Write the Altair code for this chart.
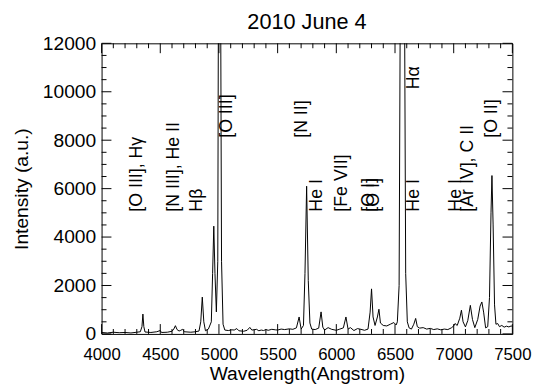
import altair as alt
import pandas as pd

# ---- spectrum ----
wavelength = [4000, 4050, 4100, 4150, 4200, 4250, 4300, 4330, 4344, 4352, 4360, 4370,
              4420, 4470, 4500, 4510, 4560, 4600, 4615, 4629, 4643, 4660, 4675, 4690, 4705,
              4760, 4800, 4830, 4845, 4858, 4871, 4885, 4910, 4935, 4946, 4956, 4966, 4978,
              4990, 4995, 5005, 5015, 5022, 5035, 5050, 5080, 5110, 5130, 5152, 5170, 5210,
              5240, 5263, 5280, 5300, 5320, 5340, 5360, 5380, 5400, 5420, 5450, 5480, 5500,
              5530, 5560, 5600, 5630, 5660, 5683, 5700, 5720, 5733, 5747, 5761, 5775, 5790,
              5820, 5850, 5870, 5885, 5900, 5930, 5960, 6000, 6030, 6060, 6082, 6100, 6120,
              6150, 6180, 6210, 6240, 6270, 6288, 6300, 6313, 6330, 6350, 6363, 6376, 6400,
              6430, 6460, 6490, 6510, 6520, 6535, 6545, 6563, 6581, 6591, 6605, 6620, 6640,
              6660, 6676, 6690, 6710, 6740, 6770, 6800, 6830, 6860, 6890, 6920, 6950, 6980,
              7000, 7011, 7030, 7052, 7066, 7080, 7100, 7120, 7142, 7160, 7180, 7205, 7225,
              7240, 7255, 7272, 7290, 7305, 7318, 7326, 7336, 7348, 7360, 7375, 7390, 7410,
              7430, 7450, 7470, 7490, 7500]
intensity = [60, 40, 70, 50, 60, 40, 70, 90, 300, 820, 300, 80,
             60, 90, 140, 60, 70, 110, 200, 340, 180, 120, 150, 190, 90,
             70, 90, 120, 500, 1520, 500, 130, 200, 500, 2500, 4450, 2500, 910,
             3000, 13000, 60000, 13000, 3000, 400, 160, 140, 170, 160, 220, 130, 110,
             150, 270, 160, 170, 190, 130, 160, 140, 180, 150, 190, 170, 160,
             200, 180, 210, 190, 250, 700, 200, 350, 2500, 6100, 2200, 450, 200,
             180, 240, 910, 280, 160, 260, 190, 150, 200, 250, 700, 200, 260,
             140, 220, 190, 150, 200, 900, 1860, 700, 350, 700, 1020, 450, 350,
             330, 400, 470, 370, 500, 2000, 14000, 80000, 14000, 2500, 500, 250, 200,
             400, 640, 300, 240, 260, 200, 230, 180, 210, 170, 200, 180, 250,
             330, 430, 350, 650, 980, 500, 290, 550, 1180, 600, 260, 600, 1150,
             1320, 900, 250, 300, 1500, 5000, 6540, 4500, 1200, 400, 430, 300, 350,
             280, 320, 290, 330, 300]

# ---- line identifications ----
label_text = ["[O III], Hγ", "[N III], He II", "Hβ", "[O III]", "[N II]", "He I", "[Fe VII]",
              "[O I]", "[O I]", "He I", "Hα", "He I", "[Ar IV], C II", "[O II]"]
label_wave = [4300, 4621, 4816, 5068, 5711, 5837, 6046, 6280, 6322, 6661, 6661, 7024, 7122, 7331]
label_base = [5050, 5050, 5050, 8100, 8100, 5050, 5050, 5050, 5050, 5050, 10100, 5050, 5050, 8100]

# ---- axis ticks ----
x_major = [4000, 4500, 5000, 5500, 6000, 6500, 7000, 7500]
x_minor = [v for v in range(4000, 7501, 100) if v not in x_major]
y_major = [0, 2000, 4000, 6000, 8000, 10000, 12000]
y_minor = [v for v in range(0, 12001, 500) if v not in y_major]

W, H = 417, 295
FONT = "Liberation Sans"

xs = alt.Scale(domain=[4000, 7500], nice=False, zero=False)
ys = alt.Scale(domain=[0, 12000], nice=False)

xax = alt.Axis(values=x_major, format="d", title="Wavelength(Angstrom)", ticks=False, domain=False,
               grid=False, labelFontSize=17, labelFont=FONT, labelColor="black",
               labelPadding=13, titleFont=FONT, titleFontSize=19.5, titleFontWeight="normal",
               titleColor="black", titlePadding=2, labelFlush=False)
yax = alt.Axis(values=y_major, format="d", title="Intensity (a.u.)", ticks=False, domain=False,
               grid=False, labelFontSize=19.5, labelFont=FONT, labelColor="black", labelPadding=6,
               titleFont=FONT, titleFontSize=19.5, titleFontWeight="normal", titleColor="black",
               titlePadding=11, labelFlush=False)

spec_df = pd.DataFrame({"w": wavelength, "i": intensity})
lab_df = pd.DataFrame({"w": label_wave, "b": label_base, "t": label_text})

line = alt.Chart(spec_df).mark_line(color="black", strokeWidth=1, clip=True).encode(
    x=alt.X("w:Q", scale=xs, axis=xax),
    y=alt.Y("i:Q", scale=ys, axis=yax),
)

labels = alt.Chart(lab_df).mark_text(
    angle=270, align="left", baseline="middle", fontSize=18, font=FONT, color="black"
).encode(
    x=alt.X("w:Q", scale=xs, axis=xax),
    y=alt.Y("b:Q", scale=ys, axis=yax),
    text="t:N",
)


def xticks(vals, length):
    d = pd.DataFrame({"w": vals})
    base = alt.Chart(d).mark_rule(color="black", strokeWidth=1)
    bottom = base.encode(x=alt.X("w:Q", scale=xs, axis=xax), y=alt.value(H), y2=alt.value(H - length))
    top = base.encode(x=alt.X("w:Q", scale=xs, axis=xax), y=alt.value(0), y2=alt.value(length))
    return [bottom, top]


def yticks(vals, length):
    d = pd.DataFrame({"i": vals})
    base = alt.Chart(d).mark_rule(color="black", strokeWidth=1)
    left = base.encode(y=alt.Y("i:Q", scale=ys, axis=yax), x=alt.value(0), x2=alt.value(length))
    right = base.encode(y=alt.Y("i:Q", scale=ys, axis=yax), x=alt.value(W), x2=alt.value(W - length))
    return [left, right]


layers = [line, labels] + xticks(x_major, 10) + xticks(x_minor, 5) + yticks(y_major, 10) + yticks(y_minor, 5)

chart = alt.layer(*layers).properties(
    width=W, height=H,
    title=alt.TitleParams("2010 June 4", font=FONT, fontSize=22, fontWeight="normal",
                          color="black", anchor="middle", offset=0, frame="group"),
    autosize=alt.AutoSizeParams(type="none"),
    padding={"left": 95, "top": 33, "right": 25, "bottom": 50},
    background="white",
).configure_view(stroke="black", strokeWidth=1)

chart.save("out.html", embed_options={"renderer": "svg", "actions": False})
